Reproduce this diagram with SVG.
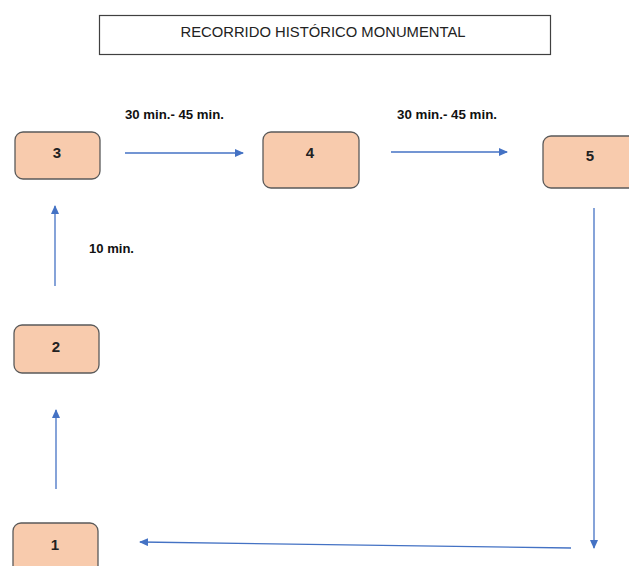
<svg xmlns="http://www.w3.org/2000/svg" width="629" height="566" viewBox="0 0 629 566">
<style>
.node rect{fill:#F8CBAD;stroke:#5a5a5a;stroke-width:1.3}
.num{font-family:"Liberation Sans",Arial,sans-serif;font-size:15px;font-weight:bold;fill:#222;text-anchor:middle}
.lbl{font-family:"Liberation Sans",Arial,sans-serif;font-size:12.5px;font-weight:bold;fill:#111}
.title{font-family:"Liberation Sans",Arial,sans-serif;font-size:14.5px;fill:#222;text-anchor:middle}
.conn line{stroke:#4472C4;stroke-width:1.3;fill:none;marker-end:url(#ah)}
</style>
<defs>
<marker id="ah" markerWidth="10" markerHeight="10" refX="8" refY="4" orient="auto" markerUnits="userSpaceOnUse">
<path d="M0,0 L9,4 L0,8 Z" fill="#4472C4"/>
</marker>
</defs>
<rect width="629" height="566" fill="#fff"/>
<g id="title">
<rect x="99.5" y="15.5" width="451" height="39" fill="#fff" stroke="#404040" stroke-width="1.2"/>
<text class="title" x="323" y="37" textLength="285" lengthAdjust="spacingAndGlyphs">RECORRIDO HISTÓRICO MONUMENTAL</text>
</g>
<g id="node3" class="node"><rect x="15" y="132" width="85" height="47" rx="8"/><text class="num" x="57" y="158">3</text></g>
<g id="node4" class="node"><rect x="263" y="132" width="96" height="56" rx="8"/><text class="num" x="310" y="158">4</text></g>
<g id="node5" class="node"><rect x="543" y="136" width="100" height="52" rx="8"/><text class="num" x="590" y="161">5</text></g>
<g id="node2" class="node"><rect x="14" y="325" width="85" height="48" rx="8"/><text class="num" x="56" y="352">2</text></g>
<g id="node1" class="node"><rect x="13" y="523" width="85" height="60" rx="8"/><text class="num" x="55" y="550">1</text></g>
<g id="connectors" class="conn">
<line x1="125" y1="153" x2="243" y2="153"/>
<line x1="391" y1="152" x2="507" y2="152"/>
<line x1="55" y1="286" x2="55" y2="206"/>
<line x1="56" y1="489" x2="56" y2="410"/>
<line x1="594" y1="208" x2="594" y2="548"/>
<line x1="571" y1="548" x2="140" y2="542"/>
</g>
<g id="labels">
<text class="lbl" x="125" y="119" textLength="99" lengthAdjust="spacingAndGlyphs">30 min.- 45 min.</text>
<text class="lbl" x="397" y="119" textLength="100" lengthAdjust="spacingAndGlyphs">30 min.- 45 min.</text>
<text class="lbl" x="89" y="253" textLength="45" lengthAdjust="spacingAndGlyphs">10 min.</text>
</g>
</svg>
